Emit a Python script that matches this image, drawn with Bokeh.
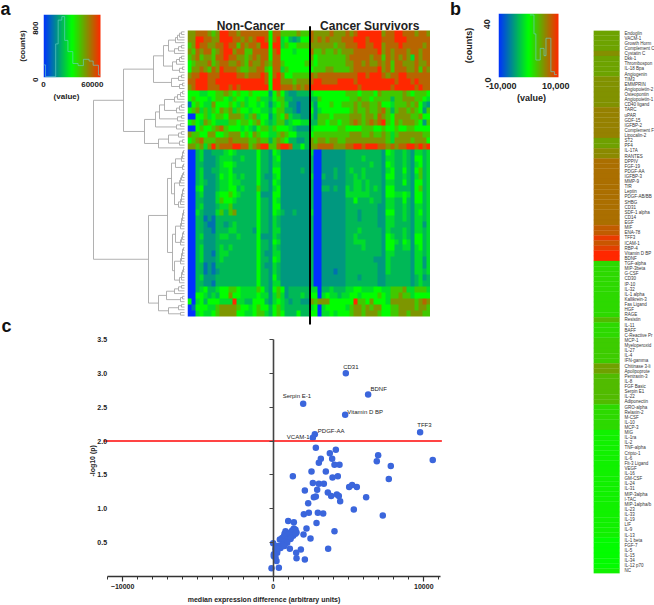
import numpy as np
from math import pi
from bokeh.core.properties import value
from bokeh.embed import file_html
from bokeh.models import (Column, ColumnDataSource, CustomJSTickFormatter, FactorRange, FixedTicker,
                          LinearAxis, LinearColorMapper, NumeralTickFormatter, Range1d)
from bokeh.plotting import figure
from bokeh.resources import INLINE
from bokeh.transform import transform

FONT = "Liberation Sans"

# ---------- panel a : heat map, 48 bands x 60 samples (colour level per cell)
LEVEL_VALUES = [0, 11000, 17500, 23000, 29000, 35000, 44000, 52000, 60000, 70000]
NON_CANCER = """
77888 76799 88788 88888 58866 66766
77998 87799 98878 78998 58945 32355
67988 77889 88687 88799 59946 55666
76878 86789 97886 68888 58955 54555
67867 76889 88776 78788 58855 55555
56777 86788 77876 87787 68865 55556
57787 68798 88766 77886 58846 55555
78899 88899 99887 88898 58975 56666
88999 88999 99999 99998 59977 76777
78999 88899 89899 99999 59988 87878
55544 55667 65655 65555 25753 22333
56555 45665 46554 55644 35663 32222
15654 47555 65464 55454 24564 22122
56746 46576 74655 45544 35663 32122
00556 45665 77764 67455 24657 43322
56547 65444 66566 56754 34663 45544
00565 56786 55545 43566 46555 43222
76655 77556 77756 57655 44676 55333
56786 66777 87777 66766 36765 33223
77674 79788 89988 67899 66899 83353
00342 23334 54333 33533 25422 22222
00342 22344 43343 33533 24522 22222
00332 22345 54333 33533 24422 22222
00342 23344 53333 33533 25522 22232
00342 22354 54343 33532 24522 22222
00343 22344 54433 33533 25422 22222
00452 22344 55343 33633 24522 22222
00342 22455 65433 33522 25522 22222
00332 22465 54333 33533 25422 22222
00342 22344 63333 33533 25522 22222
00432 22463 67333 33533 25432 23222
00331 21333 33333 33533 24322 22222
00332 11332 34333 33533 24322 22222
00332 21333 44333 32533 24422 22222
00342 22344 33433 33522 24322 22222
00332 22333 33333 33533 25422 22222
00342 22343 43333 33533 24322 22222
00342 21344 33333 33532 24422 22222
00342 22343 33333 33533 25422 22222
00331 21333 33333 33532 24322 22222
00331 21233 33333 33533 24322 22222
00342 22333 33333 33533 25322 22222
00332 21333 33333 33533 24422 22222
00345 33455 66544 44653 25652 33333
00554 34355 75544 44544 24642 33343
50453 55544 49443 35553 24543 23322
01555 44677 77655 45655 35643 33333
00454 45677 77554 45664 35653 33533
"""
CANCER_SURVIVORS = """
87777 87778 78999 99978 89988 87887
87878 77788 89998 99988 89998 88888
77777 76778 88998 89978 88988 88878
86676 67677 78888 88978 78887 88788
75666 66667 88888 78868 78787 48788
65666 66667 78878 77878 68877 78778
56667 76666 78888 88978 68887 78687
87888 88888 88998 99987 88998 88888
89988 88999 98999 99999 98999 89888
99999 99999 99899 99999 89999 98988
45555 55556 66566 65766 66676 56665
33655 55555 66766 56666 36677 76654
42555 65566 67677 66755 46667 67532
52455 55555 67667 66786 36776 76526
42666 56666 77767 76876 57777 66755
33665 66566 78767 87896 57677 76526
45555 55665 55566 65565 56556 65555
56666 66666 77766 76676 46777 77766
76776 77667 77777 77776 47777 67775
77888 87778 89989 99887 87889 98989
40022 22223 33333 33325 43343 24434
30022 22223 33343 33324 43343 25534
30022 22223 33333 43325 43343 24534
30022 23223 43343 33324 53353 25634
40032 23223 34343 33325 53343 24634
30022 22223 34434 33324 43353 25534
30033 23224 34434 34325 53333 25634
30022 22224 44444 33325 54454 25534
30022 22223 35333 43324 43353 25534
30022 22223 33333 33224 43343 24434
40022 22223 33233 33225 53343 24534
30022 22223 33233 33224 43343 24434
30022 22223 33333 33224 43333 24424
30022 22223 33433 33324 33343 24434
30022 22223 34333 33325 43343 25534
30022 22223 34443 33325 54354 25534
30022 22223 33343 33325 53344 24534
30022 22223 33333 33324 43333 24434
30022 22223 33333 32224 33333 24424
30022 22223 33333 33224 33333 24424
30022 21223 33333 33224 33333 24434
30022 22223 33233 33223 33333 23423
30022 22223 33333 33223 33333 23433
44033 43334 45544 45544 66674 46664
55045 44344 55455 55654 66766 45555
76777 55555 59665 75554 77777 76787
45045 55554 67767 67755 66777 76776
55044 54555 67767 77655 66776 77766
"""

HIST_A_EDGES = [0, 2500, 15000, 18000, 22500, 26000, 30000, 36000, 42500, 49000, 56000, 61000, 67500, 70000]
HIST_A_COUNTS = [180, 12, 480, 820, 870, 530, 370, 200, 170, 260, 235, 175, 35, 35]
HIST_B_EDGES = [500, 2000, 2700, 4300, 5700, 6400, 8200, 9500, 10400]
HIST_B_COUNTS = [43, 30, 12, 20, 15, 27, 4, 2, 2]


def lad(*heights):
    node = [heights[0], 0, 0]
    for h in heights[1:]:
        node = [h, node, 0]
    return node


# dendrogram: [merge distance, upper branch, lower branch]; 0 is one analyte
TOP_TREE = [31,
            [21, [16, lad(3, 5, 7, 9), lad(3, 6, 10)], [12, lad(3, 5, 8), lad(2, 5)]],
            [13, lad(3, 6), lad(2, 5)]]
MID_TREE = [40,
            [29, [25, [20, lad(2, 4, 7, 10), lad(3, 5, 8)], lad(3, 7)], lad(4, 8)],
            [26, [16, lad(3, 6), lad(2, 5)], 0]]
LOW_TREE = [36,
            [17,
             [13, [9, lad(1, 2, 2, 3), lad(1, 2)], [10, lad(1, 2, 3, 4, 5), lad(1, 2, 2, 3, 3, 4, 6)]],
             [12, [9, lad(1, 1, 2, 2, 3, 3, 4), lad(1, 2, 2, 3, 4)], [10, lad(1, 2, 2, 3, 3, 4), lad(1, 1, 2, 3, 3, 5)]]],
            [26, [18, lad(3, 6, 10), lad(2, 4)], [16, lad(3, 6), lad(4)]]]
ROOT_TREE = [91, [61, TOP_TREE, MID_TREE], LOW_TREE]

# ---------- panel b strip (names as far as the reference shows them)
ANALYTES = ["Endoglin", "VACM-1", "Growth Horm", "Complement C", "Cystatin C", "Dkk-1", "Thrombospon",
            "IL-18 Bpa", "Angiogenin", "TIM3", "EMMPRIN", "Angiopoietin-2", "Osteopontin", "Angiopoietin-1",
            "CD40 ligand", "TARC", "uPAR", "GDF-15", "IGFBP-2", "Complement F", "Lipocalin-2", "ST2", "PF4",
            "IL-17A", "RANTES", "DPPIV", "FGF-19", "PDGF-AA", "IGFBP-3", "MMP-9", "TfR", "Leptin", "PDGF-AB/BB",
            "SHBG", "CD31", "SDF-1 alpha", "CD14", "EGF", "MIF", "ENA-78", "TFF3", "ICAM-1", "RBP-4",
            "Vitamin D BP", "BDNF", "TGF-alpha", "MIP-3beta", "G-CSF", "CD30", "IP-10", "IL-32", "IL-1 alpha",
            "Kallikrein-3", "Fas Ligand", "HGF", "RAGE", "Resistin", "IL-11", "BAFF", "C-Reactive Pr", "MCP-1",
            "Myeloperoxid", "IL-27", "IL-4", "IFN-gamma", "Chitinase 3-li", "Apolipoprote", "Pentraxin-3",
            "IL-8", "FGF Basic", "Serpin E1", "IL-22", "Adiponectin", "GRO-alpha", "Relaxin-2", "M-CSF", "IL-10",
            "MCP-3", "MIG", "IL-1ra", "IL-2", "TNF-alpha", "Cripto-1", "IL-6", "Flt-3 Ligand", "VEGF", "IL-16",
            "GM-CSF", "IL-24", "IL-31", "MIP-3alpha", "I-TAC", "MIP-1alpha/b", "IL-23", "IL-33", "IL-19", "LIF",
            "IL-9", "IL-13", "IL-1 beta", "FGF-7", "IL-5", "IL-15", "IL-34", "IL-12 p70", "NC"]
DIFFERENCES = [4660, 4660, 4660, 4660, 5700, 4660, 4660, 4660, 4660, 5500, 5500, 5500, 5500, 5500, 5500,
               6400, 6400, 6400, 6400, 6400, 6400, 4760, 4760, 6000, 6000,
               7330, 7330, 7330, 7330, 7330, 7330, 7330, 7330, 7330, 7330, 7330, 7330, 7330,
               8300, 8300, 10000, 8600, 9660, 11000, 11000,
               1940, 1940, 1940, 1940, 1940, 1940, 1940, 1940, 1940, 1940, 1940, 3450, 1940, 1940, 1940,
               2630, 2630, 2630, 2630, 2630, 4790, 4790, 3450, 3450, 3450, 3450, 3450, 3450,
               1940, 1940, 1940, 1940, 1940,
               690, 690, 690, 690, 690, 690, 690, 690, 690, 690, 690, 690, 690, 690, 690, 690, 690, 690, 690, 690, 690,
               100, 100, 100, 100, 100, 100, 690]

# ---------- panel c volcano
DIFF = [4822, 6304, 1991, 4778, 9755, 2765, 2632, 2831, 4159, 3760, 6968, 3915, 3163, 3030, 6879, 10595, 7808, 4070,
        4402, 3495, 2544, 1305, 3937, 4291, 7676, 2632, 3030, 3362, 5242, 5043, 5552, 2920, 2101, 3628, 3849, 4225,
        4358, 2831, 2699, 6171, 4446, 2323, 5353, 2035, 2367, 2964, 3318, 7277, 995, 1371, 2876, 2212, 4070, 2013,
        2477, 3650, 1836, 1526, 1106, 1548, 2101, 0, 376, -111, 221, 155, 44, 265,
        1371, 1261, 1482, 1150, 1548, 818, 752, 1040, 1327, 1482, 929, 708, 1150, 597, 929, 442, 1150, 752, 929, 597,
        376, 487, 265, 155, 752, 155, 265, 44, 221]
LOGP = [3.00, 2.686, 2.55, 2.39, 2.13, 2.10, 2.05, 1.90, 1.87, 1.82, 1.79, 1.74, 1.74, 1.68, 1.70, 1.72, 1.63, 1.65,
        1.65, 1.55, 1.55, 1.48, 1.46, 1.48, 1.44, 1.38, 1.37, 1.37, 1.35, 1.32, 1.32, 1.28, 1.27, 1.24, 1.19, 1.21,
        1.19, 1.18, 1.17, 1.17, 1.11, 1.08, 0.99, 0.92, 0.94, 0.94, 0.93, 0.90, 0.82, 0.80, 0.79, 0.71, 0.67, 0.62,
        0.56, 0.41, 0.40, 0.35, 0.41, 0.27, 0.25, 0.49, 0.13, 0.12, 0.23, 0.28, 0.30, 0.35,
        0.71, 0.68, 0.69, 0.65, 0.65, 0.67, 0.63, 0.62, 0.60, 0.63, 0.58, 0.59, 0.57, 0.57, 0.545, 0.545, 0.555, 0.52,
        0.50, 0.47, 0.45, 0.42, 0.45, 0.42, 0.45, 0.39, 0.38, 0.33, 0.41]
NAMES = ["CD31", "BDNF", "Serpin E-1", "Vitamin D BP", "TFF3", "PDGF-AA", "VCAM-1"]
NAME_X = [5154, 7001, 1570, 6105, 10042, 3849, 1659]
NAME_Y = [3.10, 2.77, 2.66, 2.425, 2.23, 2.155, 2.06]
THRESHOLD = 2.0
THRESHOLD_SPAN = [-11268, 11200]


def ramp():
    stops = [(0, 48, 255), (0, 255, 0), (255, 40, 0)]
    cols = []
    for i in range(256):
        t = i / 255 * 2
        k = min(int(t), 1)
        f = t - k
        a, b = stops[k], stops[k + 1]
        cols.append("#%02x%02x%02x" % tuple(int(round(a[j] + (b[j] - a[j]) * f)) for j in range(3)))
    return cols


PALETTE = ramp()
placed = []
# all figures in a column share their border sizes, so they all get the same ones
PAD_L, PAD_T, PAD_B = 40, 3, 24


def panel(L, T, R, B, **kw):
    p = figure(width=R - L + PAD_L, height=B - T + PAD_T + PAD_B, min_border_left=PAD_L, min_border_top=PAD_T,
               min_border_right=0, min_border_bottom=PAD_B, toolbar_location=None, output_backend="svg",
               background_fill_color=None, border_fill_color=None, outline_line_color=None, **kw)
    p.grid.visible = False
    placed.append((p, L - PAD_L, T - PAD_T, p.width, p.height))
    return p


def style_axis(ax, size, bold=True):
    ax.major_label_text_font = FONT
    ax.major_label_text_font_size = size
    ax.major_label_text_font_style = "bold" if bold else "normal"
    ax.major_label_text_color = "#222222"
    ax.axis_label_text_font = FONT
    ax.axis_label_text_font_size = size
    ax.axis_label_text_font_style = "bold"
    ax.axis_label_text_color = "#222222"


def colour_key(L, T, R, B, low, high, ymax, xticks, yticks, xfmt, hx, hy, mapper, size, x_gap, y_gap, y_label_gap,
               cap_x, cap_y):
    # the frame runs on past the colour band, so that the last tick label is not cut
    spare = 17
    p = panel(L, T, R + spare, B, x_range=Range1d(low, high + (high - low) * spare / (R - L)), y_range=Range1d(0, ymax))
    grad = np.linspace(low, high, 256)[None, :]
    p.image(image=[grad], x=low, y=0, dw=high - low, dh=ymax, color_mapper=mapper)
    p.step(hx, hy, mode="after", line_color="#66d0c8", line_alpha=0.65, line_width=1)
    p.xaxis.ticker = FixedTicker(ticks=xticks)
    p.xaxis.major_label_overrides = xfmt
    p.yaxis.ticker = FixedTicker(ticks=yticks)
    p.yaxis.major_label_orientation = pi / 2
    for ax in (p.xaxis[0], p.yaxis[0]):
        style_axis(ax, size)
        ax.axis_line_color = None
        ax.major_tick_line_color = None
        ax.minor_tick_line_color = None
    p.xaxis.major_tick_out = 0
    p.xaxis.minor_tick_out = 0
    p.xaxis.major_label_standoff = x_gap
    p.yaxis.major_label_standoff = y_gap
    p.yaxis.axis_label_standoff = y_label_gap
    p.yaxis.axis_label = "(counts)"
    # "(value)" sits under the band, not under the longer frame: it has a small frame of its own
    cap = panel(cap_x - 30, cap_y - 7, cap_x + 30, cap_y + 7, x_range=Range1d(cap_x - 30, cap_x + 30),
                y_range=Range1d(cap_y + 7, cap_y - 7))
    cap.axis.visible = False
    cap.text(x=[cap_x], y=[cap_y], text=["(value)"], text_font=value(FONT), text_font_style="bold",
             text_font_size=size, text_align="center", text_baseline="middle", text_color="#222222")
    return p


# --- overlay with panel letters
letters = panel(0, 0, 470, 335, x_range=Range1d(0, 470), y_range=Range1d(335, 0))
letters.axis.visible = False
letters.text(x=[5, 455, 6], y=[8, 8, 325], text=["a", "b", "c"], text_font=value(FONT), text_font_style="bold",
             text_font_size="18px", text_align="center", text_baseline="middle", text_color="#111111")

# --- colour keys
map_a = LinearColorMapper(palette=PALETTE, low=0, high=70000)
map_b = LinearColorMapper(palette=PALETTE, low=-11000, high=11000)
colour_key(43, 14, 100, 77, 0, 70000, 900, [0, 60000], [0, 800], {}, HIST_A_EDGES, HIST_A_COUNTS, map_a, "8px",
           4, 2, 1, 66, 96)
colour_key(498, 13, 558, 77, -11000, 11000, 44, [-10000, 10000], [0, 40], {-10000: "-10,000", 10000: "10,000"},
           HIST_B_EDGES, HIST_B_COUNTS, map_b, "9px", 5, 5, 5, 531, 97)

# --- dendrogram
xs, ys = [], []
leaf_counter = [0]


def walk(node):
    if node == 0:
        leaf_counter[0] += 1
        return leaf_counter[0] - 0.5, 0
    h, a, b = node
    ya, ha = walk(a)
    yb, hb = walk(b)
    xs.append([ha, h, h, hb])
    ys.append([ya, ya, yb, yb])
    return (ya + yb) / 2, h


walk(ROOT_TREE)
dendro = panel(92, 30, 185, 316, x_range=Range1d(92, -1), y_range=Range1d(len(ANALYTES), 0))
dendro.axis.visible = False
dendro.multi_line(xs, ys, line_color="#a8a8a8", line_width=0.9)

# --- heat map
to_rows = lambda block: [list(r.replace(" ", "")) for r in block.strip().splitlines()]
levels = np.array([a + b for a, b in zip(to_rows(NON_CANCER), to_rows(CANCER_SURVIVORS))], dtype=int)
matrix = np.array(LEVEL_VALUES)[levels]
n_rows, n_cols = matrix.shape
px = 286 / n_rows
heat = panel(187, 18, 430, 330, x_range=Range1d(0, n_cols), y_range=Range1d(-14 / px, n_rows + 12 / px))
heat.axis.visible = False
heat.image(image=[matrix[::-1].astype(float)], x=0, y=0, dw=n_cols, dh=n_rows, color_mapper=map_a)
heat.line([n_cols / 2 + 0.25] * 2, [-8 / px, n_rows + 4.3 / px], line_color="black", line_width=2)
heat.text(x=[15.6, 45], y=[n_rows + 5 / px] * 2, text=["Non-Cancer", "Cancer Survivors"], text_font=value(FONT),
          text_font_style="bold", text_font_size="12px", text_align="center", text_baseline="middle",
          text_color="#222222")

# --- volcano
sx = 0.01506
vol = panel(85, 330, 442, 581, x_range=Range1d(-187.7 / sx, 169.3 / sx), y_range=Range1d(0, 251 / 69.1))
vol.scatter(DIFF, LOGP, size=6.5, color="#3b66dc", line_color=None)
vol.line(THRESHOLD_SPAN, [THRESHOLD, THRESHOLD], line_color="#ff3030", line_width=2, line_alpha=0.9)
vol.text(NAME_X, NAME_Y, text=NAMES, text_font=value(FONT), text_font_size="6px", text_align="center",
         text_baseline="middle", text_color="#222222")
vol.text([-181 / sx], [118 / 69.1], text=["-log10 (p)"], angle=pi / 2, text_font=value(FONT), text_font_style="bold",
         text_font_size="7px", text_align="center", text_baseline="middle", text_color="#222222")
xa = vol.xaxis[0]
style_axis(xa, "7px")
xa.bounds = (-11000, 11100)
xa.ticker = FixedTicker(ticks=[-10000, 0, 10000], minor_ticks=list(range(-11000, 11001, 1000)))
xa.axis_line_color = "#333333"
xa.axis_line_width = 1.5
xa.major_tick_line_color = "#333333"
xa.major_tick_line_width = 1.2
xa.minor_tick_line_color = "#333333"
xa.major_tick_in = 0
xa.major_tick_out = 5
xa.minor_tick_in = 0
xa.minor_tick_out = 3
xa.major_label_standoff = 2
xa.axis_label_standoff = 4
xa.axis_label = "median expression difference (arbitrary units)"
TICKS_Y = [0.5, 1.0, 1.5, 2.0, 2.5, 3.0, 3.5]
ya = vol.yaxis[0]
style_axis(ya, "7px")
ya.fixed_location = -10500
ya.ticker = FixedTicker(ticks=TICKS_Y)
ya.formatter = NumeralTickFormatter(format="0.0")
ya.axis_line_color = None
ya.major_tick_line_color = None
ya.minor_tick_line_color = None
ya.major_label_standoff = 2
spine = LinearAxis(fixed_location=0, ticker=FixedTicker(ticks=TICKS_Y), bounds=(0, 3.5),
                   formatter=CustomJSTickFormatter(code="return ''"))
spine.axis_line_color = "#444444"
spine.axis_line_width = 1.6
spine.major_tick_line_color = "#444444"
spine.major_tick_line_width = 1.2
spine.major_tick_in = 0
spine.major_tick_out = 4
spine.minor_tick_line_color = None
vol.add_layout(spine, "left")

# --- analyte strip: its frame runs to the window edge, the bar fills the first 26 px of it
strip = panel(593, 30, 654, 573, x_range=Range1d(0, 61 / 26), y_range=FactorRange(*ANALYTES[::-1]))
src = ColumnDataSource(dict(name=ANALYTES, value=DIFFERENCES, lx=[31 / 26] * len(ANALYTES)))
strip.hbar(y="name", left=0, right=1, height=1, source=src, fill_color=transform("value", map_b),
           line_color=transform("value", map_b), line_width=0.3)
strip.text(x="lx", y="name", text="name", source=src, text_font=value(FONT), text_font_size="4.5px",
           text_align="left", text_baseline="middle", text_color="#333333")
strip.xaxis.visible = False
strip.yaxis.visible = False

# --- absolute placement inside one fixed-size column
children = []
for fig, L, T, W, H in placed:
    fig.styles = {"position": "absolute", "left": f"{L}px", "top": f"{T}px",
                  "width": f"{W}px", "height": f"{H}px"}
    children.append(fig)
root = Column(children=children, spacing=0, width=638, height=589)
open("out.html", "w").write(file_html(root, INLINE))
